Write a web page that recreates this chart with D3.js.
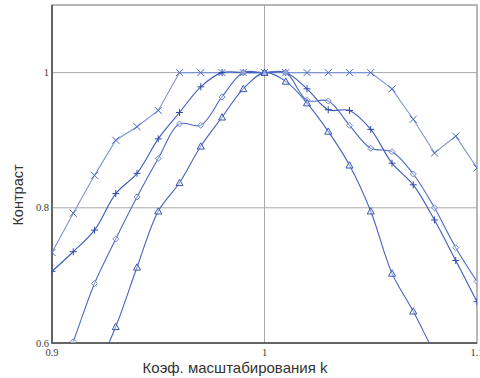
<!DOCTYPE html>
<html>
<head>
<meta charset="utf-8">
<script src="https://cdn.jsdelivr.net/npm/d3@7"></script>
<style>
    body { margin: 0; background: #fff; }
</style>
</head>
<body>
<div id="chart-container"></div>
<script>
/*
    Контраст в зависимости от коэффициента масштабирования k
 */

var k_values = [0.90, 0.91, 0.92, 0.93, 0.94, 0.95, 0.96, 0.97, 0.98, 0.99, 1.00,
                1.01, 1.02, 1.03, 1.04, 1.05, 1.06, 1.07, 1.08, 1.09, 1.10];

var cross_values = [0.734, 0.792, 0.848, 0.900, 0.920, 0.944, 1.000, 1.000, 1.000, 1.000, 1.000,
                    1.000, 1.000, 1.000, 1.000, 1.000, 0.976, 0.931, 0.881, 0.906, 0.859];

var plus_values = [0.706, 0.735, 0.767, 0.821, 0.851, 0.902, 0.941, 0.979, 1.000, 1.000, 1.000,
                   1.000, 0.976, 0.945, 0.944, 0.916, 0.866, 0.834, 0.782, 0.722, 0.661];

var diamond_values = [0.520, 0.602, 0.688, 0.754, 0.816, 0.873, 0.924, 0.922, 0.964, 1.000, 1.000,
                      1.000, 0.959, 0.958, 0.922, 0.888, 0.883, 0.850, 0.800, 0.741, 0.691];

var triangle_values = [0.450, 0.500, 0.555, 0.624, 0.712, 0.795, 0.837, 0.891, 0.934, 0.976, 1.000,
                       0.987, 0.955, 0.913, 0.863, 0.795, 0.703, 0.647, 0.585, 0.530, 0.470];

var x_ticks = [0.9, 1, 1.1];
var x_tick_labels = ['0.9', '1', '1.1'];
var y_ticks = [0.6, 0.8, 1];
var y_tick_labels = ['0.6', '0.8', '1'];

var x_title = 'Коэф. масштабирования k';
var y_title = 'Контраст';

var svg_size = {
    'width': 480,
    'height': 378
};

var plot = {
    'left': 52,
    'top': 5,
    'right': 477,
    'bottom': 343
};

var svg = d3.select("#chart-container")
    .append("svg")
    .attr('width', svg_size.width)
    .attr('height', svg_size.height)
    .style('display', 'block');

var x_scale = d3.scaleLinear()
    .domain([0.9, 1.1])
    .range([plot.left, plot.right]);

var y_scale = d3.scaleLinear()
    .domain([0.6, 1.1])
    .range([plot.bottom, plot.top]);

svg.append('defs')
    .append('clipPath')
    .attr('id', 'plot-clip')
    .append('rect')
    .attr('x', plot.left)
    .attr('y', plot.top)
    .attr('width', plot.right - plot.left)
    .attr('height', plot.bottom - plot.top);

// grid lines
var grid_group = svg.append('g');

grid_group.selectAll('.grid-h')
    .data([0.8, 1])
    .enter()
    .append('line')
    .attr('x1', plot.left)
    .attr('x2', plot.right)
    .attr('y1', function(d){ return y_scale(d); })
    .attr('y2', function(d){ return y_scale(d); })
    .style('stroke', '#a8a8a8')
    .style('stroke-width', '1px');

grid_group.selectAll('.grid-v')
    .data([1])
    .enter()
    .append('line')
    .attr('y1', plot.top)
    .attr('y2', plot.bottom)
    .attr('x1', function(d){ return x_scale(d); })
    .attr('x2', function(d){ return x_scale(d); })
    .style('stroke', '#a8a8a8')
    .style('stroke-width', '1px');

// frame
svg.append('rect')
    .attr('x', plot.left)
    .attr('y', plot.top)
    .attr('width', plot.right - plot.left)
    .attr('height', plot.bottom - plot.top)
    .style('fill', 'none')
    .style('stroke', '#a0a0a0')
    .style('stroke-width', '1.5px');

svg.append('path')
    .attr('d', 'M' + plot.left + ',' + plot.top + 'V' + plot.bottom + 'H' + plot.right)
    .style('fill', 'none')
    .style('stroke', '#4a4a4a')
    .style('stroke-width', '1.5px');

// series
var series_list = [
    {'name': 'cross', 'values': cross_values, 'curve': d3.curveLinear, 'line_color': '#7d95d3', 'marker_color': '#4a66c0'},
    {'name': 'plus', 'values': plus_values, 'curve': d3.curveCatmullRom, 'line_color': '#3d5bb8', 'marker_color': '#2f4aa8'},
    {'name': 'diamond', 'values': diamond_values, 'curve': d3.curveCatmullRom, 'line_color': '#4c68c2', 'marker_color': '#6f88cc'},
    {'name': 'triangle', 'values': triangle_values, 'curve': d3.curveCatmullRom, 'line_color': '#4562be', 'marker_color': '#3a56b4'}
];

var series_group = svg.append('g')
    .attr('clip-path', 'url(#plot-clip)');

function marker_path(name, px, py){
    var s;
    if(name === 'cross'){
        s = 3.5;
        return 'M' + (px - s) + ',' + (py - s) + 'L' + (px + s) + ',' + (py + s) +
            'M' + (px - s) + ',' + (py + s) + 'L' + (px + s) + ',' + (py - s);
    }
    if(name === 'plus'){
        s = 3.5;
        return 'M' + (px - s) + ',' + py + 'L' + (px + s) + ',' + py +
            'M' + px + ',' + (py - s) + 'L' + px + ',' + (py + s);
    }
    if(name === 'diamond'){
        s = 3;
        return 'M' + px + ',' + (py - s) + 'L' + (px + s) + ',' + py +
            'L' + px + ',' + (py + s) + 'L' + (px - s) + ',' + py + 'Z';
    }
    s = 3.5;
    return 'M' + px + ',' + (py - s) + 'L' + (px + s) + ',' + (py + s * 0.8) +
        'L' + (px - s) + ',' + (py + s * 0.8) + 'Z';
}

series_list.forEach(function(series){
    var points = k_values.map(function(k, i){
        return {'k': k, 'v': series.values[i]};
    });

    var line = d3.line()
        .x(function(d){ return x_scale(d.k); })
        .y(function(d){ return y_scale(d.v); })
        .curve(series.curve);

    series_group.append('path')
        .datum(points)
        .attr('d', line)
        .style('fill', 'none')
        .style('stroke', series.line_color)
        .style('stroke-width', '1.1px');

    series_group.selectAll('.marker-' + series.name)
        .data(points)
        .enter()
        .append('path')
        .attr('d', function(d){
            return marker_path(series.name, x_scale(d.k), y_scale(d.v));
        })
        .style('fill', series.name === 'cross' || series.name === 'plus' ? 'none' : '#ffffff')
        .style('fill-opacity', 0.4)
        .style('stroke', series.marker_color)
        .style('stroke-width', '1px');
});

// tick labels
svg.selectAll('.y-tick')
    .data(y_ticks)
    .enter()
    .append('text')
    .attr('x', plot.left - 3)
    .attr('y', function(d){ return y_scale(d); })
    .attr('text-anchor', 'end')
    .attr('dominant-baseline', 'central')
    .style('font-family', '"Liberation Serif", serif')
    .style('font-size', '10.5px')
    .style('fill', '#3a3a3a')
    .text(function(d, i){ return y_tick_labels[i]; });

svg.selectAll('.x-tick')
    .data(x_ticks)
    .enter()
    .append('text')
    .attr('x', function(d){ return x_scale(d); })
    .attr('y', plot.bottom + 13)
    .attr('text-anchor', 'middle')
    .style('font-family', '"Liberation Serif", serif')
    .style('font-size', '10.5px')
    .style('fill', '#3a3a3a')
    .text(function(d, i){ return x_tick_labels[i]; });

// axis titles
svg.append('text')
    .attr('x', 235)
    .attr('y', 373)
    .attr('text-anchor', 'middle')
    .style('font-family', '"Liberation Sans", Arial, sans-serif')
    .style('font-size', '15px')
    .style('fill', '#333')
    .text(x_title);

svg.append('text')
    .attr('transform', 'translate(23,195) rotate(-90)')
    .attr('text-anchor', 'middle')
    .style('font-family', '"Liberation Sans", Arial, sans-serif')
    .style('font-size', '14.5px')
    .style('fill', '#333')
    .text(y_title);
</script>
</body>
</html>
